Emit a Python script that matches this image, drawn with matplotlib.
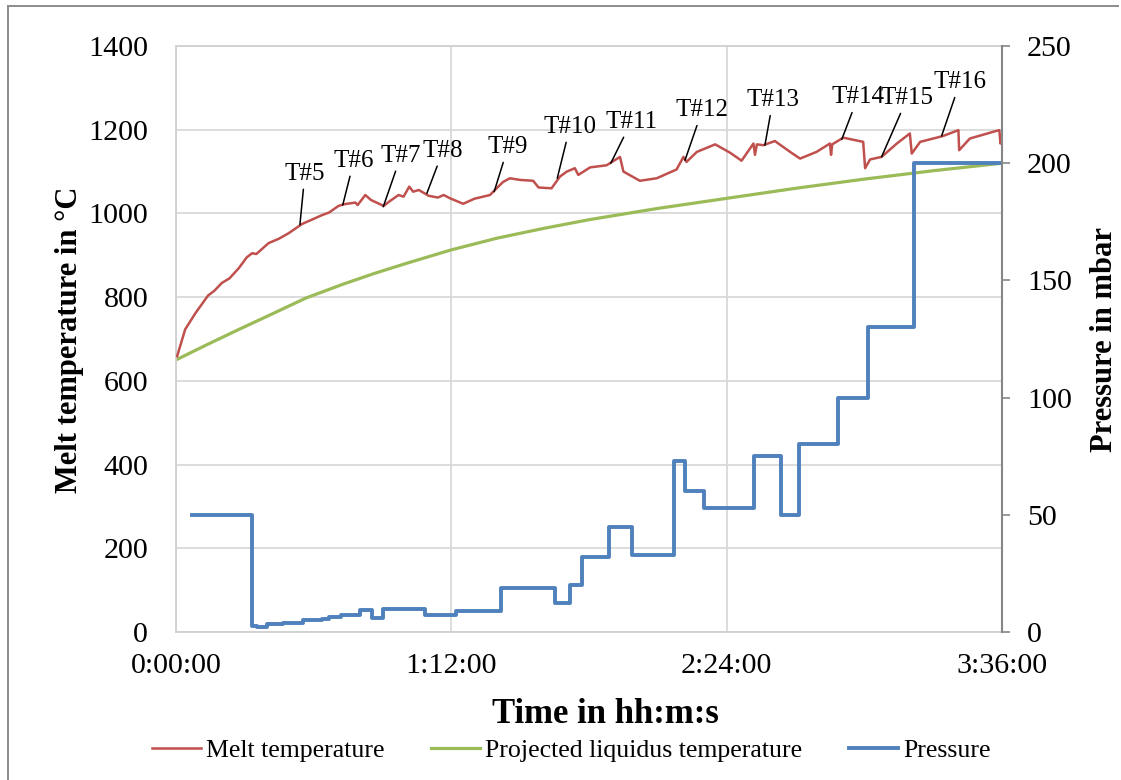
import matplotlib
matplotlib.use("Agg")
import matplotlib.pyplot as plt
from matplotlib.lines import Line2D

plt.rcParams["font.family"] = ["Liberation Serif", "DejaVu Serif"]

# melt temperature (time in minutes, temperature in degC)
melt_time = [0.3, 2.4, 5.1, 8.4, 10.0, 12.0, 14.0, 16.4, 18.5, 19.9, 21.0, 24.2, 27.0,
             29.5, 33.0, 35.5, 38.2, 40.0, 42.5, 44.0, 46.9, 47.5, 49.5, 51.0, 54.3,
             56.0, 58.2, 59.5, 61.0, 62.0, 63.5, 66.1, 68.5, 70.0, 71.7, 75.1, 78.0,
             82.1, 83.4, 85.5, 87.3, 90.0, 93.4, 94.8, 98.2, 100.4, 102.2, 104.3, 105.2,
             108.3, 112.6, 116.1, 117.0, 121.3, 125.7, 130.9, 132.7, 133.5, 136.2, 141.0,
             144.9, 147.9, 151.0, 151.4, 151.9, 153.6, 156.6, 160.6, 163.2, 167.5, 171.0,
             171.3, 171.6, 174.5, 179.7, 180.2, 181.5, 184.5, 188.5, 191.9, 192.4, 194.6,
             200.6, 204.6, 204.8, 207.6, 213.7, 215.3, 215.6, 216.0]
melt_temp = [659, 723, 762, 804, 815, 834, 845, 869, 895, 905, 903, 929, 940,
             953, 975, 985, 996, 1002, 1018, 1022, 1026, 1020, 1044, 1032, 1018,
             1030, 1044, 1040, 1064, 1052, 1056, 1042, 1038, 1044, 1036, 1023, 1035,
             1044, 1056, 1075, 1084, 1080, 1078, 1062, 1060, 1088, 1100, 1108, 1092,
             1110, 1115, 1135, 1100, 1078, 1084, 1105, 1135, 1123, 1147, 1165,
             1145, 1126, 1167, 1140, 1165, 1163, 1173, 1147, 1131, 1147, 1167,
             1140, 1165, 1181, 1171, 1108, 1129, 1135, 1167, 1191, 1143, 1171,
             1185, 1199, 1151, 1179, 1195, 1199, 1167, 1179]

# projected liquidus temperature
liq_time = [0, 8, 16, 24, 34, 44, 52, 60, 72, 84, 96, 108, 126, 144, 162, 180, 198, 216]
liq_temp = [650, 686, 721, 755, 798, 832, 857, 880, 913, 941, 964, 985, 1012, 1036,
            1060, 1082, 1102, 1120]

# pressure steps (mbar), value holds until next time
p_time = [4.1, 20.0, 21.1, 23.7, 28.1, 33.1, 38.1, 40.1, 43.1, 48.1, 51.2, 54.0,
          65.1, 73.1, 85.0, 99.1, 103.0, 106.3, 113.1, 119.2, 130.2, 133.1, 138.1,
          151.2, 158.1, 163.0, 173.0, 181.0, 193.0, 216.0]
p_val = [50, 2.6, 2.0, 3.4, 4.0, 5.1, 5.7, 6.5, 7.4, 9.2, 6.0, 9.6,
         7.3, 9.1, 18.6, 12.5, 20, 32, 45, 33, 73, 60, 53,
         75, 50, 80, 100, 130, 200, 200]

# test labels and the point on the melt curve they refer to
ann_labels = ["T#5", "T#6", "T#7", "T#8", "T#9", "T#10", "T#11", "T#12",
              "T#13", "T#14", "T#15", "T#16"]
ann_time = [32.4, 43.6, 54.2, 65.6, 83.2, 99.7, 113.7, 133.1, 154.0, 174.1, 184.5, 200.2]
ann_temp = [973, 1020, 1016, 1048, 1052, 1084, 1120, 1127, 1163, 1177, 1135, 1185]
# where the label text sits
ann_text_pos = [(33.7, 1094), (46.5, 1125), (58.8, 1137), (69.8, 1149), (86.8, 1158),
                (103.0, 1206), (119.0, 1218), (137.6, 1246), (156.1, 1270),
                (178.3, 1277), (191.2, 1275), (205.0, 1313)]

x_ticks = [0, 72, 144, 216]
x_ticklabels = ["0:00:00", "1:12:00", "2:24:00", "3:36:00"]

W, H = 1121, 780
fig = plt.figure(figsize=(W / 100, H / 100), dpi=100)
ax = fig.add_axes([176 / W, 1 - 632 / H, 826 / W, 586 / H])

red, = ax.plot(melt_time, melt_temp, color="#C0504D", lw=1.8, zorder=3,
               label="Melt temperature")
green, = ax.plot(liq_time, liq_temp, color="#9BBB59", lw=2.3, zorder=2,
                 label="Projected liquidus temperature")

ax.set_xlim(0, 216)
ax.set_ylim(0, 1400)
ax.set_xticks(x_ticks)
ax.set_xticklabels(x_ticklabels)
ax.set_yticks(range(0, 1401, 200))
ax.tick_params(axis="both", length=0, labelsize=21.6)
ax.tick_params(axis="y", pad=20)
ax.tick_params(axis="x", pad=15)
ax.grid(True, color="#d9d9d9", lw=1.3)
ax.set_axisbelow(True)
for side in ["left", "top", "bottom"]:
    ax.spines[side].set_color("#d0d0d0")
    ax.spines[side].set_linewidth(1.3)
ax.spines["right"].set_visible(False)

for lab, t, v, pos in zip(ann_labels, ann_time, ann_temp, ann_text_pos):
    ax.annotate(lab, xy=(t, v), xytext=pos, ha="center", va="center",
                fontsize=18, zorder=5, annotation_clip=False,
                arrowprops=dict(arrowstyle="-", color="black", lw=1.1,
                                shrinkA=1, shrinkB=0))

ax2 = ax.twinx()
blue, = ax2.step(p_time, p_val, where="post", color="#4F81BD", lw=2.8,
                 label="Pressure")
ax2.set_ylim(0, 250)
ax2.set_yticks(range(0, 251, 50))
ax2.tick_params(axis="y", direction="out", length=6, width=1.2, color="#868686",
                labelsize=21.6, pad=12)
for side in ["left", "top", "bottom"]:
    ax2.spines[side].set_visible(False)
ax2.spines["right"].set_color("#868686")
ax2.spines["right"].set_linewidth(1.5)

fig.text(605 / W, 1 - 723 / H, "Time in hh:m:s", ha="center", va="baseline",
         fontsize=25, fontweight="bold")
fig.text(77 / W, 1 - 340 / H, "Melt temperature in °C", ha="center", va="baseline",
         rotation=90, rotation_mode="anchor", fontsize=22, fontweight="bold")
fig.text(1112 / W, 1 - 340 / H, "Pressure in mbar", ha="center", va="baseline",
         rotation=90, rotation_mode="anchor", fontsize=22, fontweight="bold")

fig.legend([red, green, blue], [red.get_label(), green.get_label(), blue.get_label()],
           loc="center", bbox_to_anchor=(571 / W, 1 - 750 / H), ncol=3, frameon=False,
           fontsize=18.6, handlelength=1.9, handletextpad=0.2, columnspacing=1.8)

# chart area border (top and left edges visible in the crop)
fig.add_artist(Line2D([8 / W, 1118 / W], [1 - 6 / H, 1 - 6 / H], color="#8c8c8c", lw=1.4))
fig.add_artist(Line2D([8 / W, 8 / W], [1 - 6 / H, 0], color="#8c8c8c", lw=1.4))

fig.savefig("out.png", dpi=100)
